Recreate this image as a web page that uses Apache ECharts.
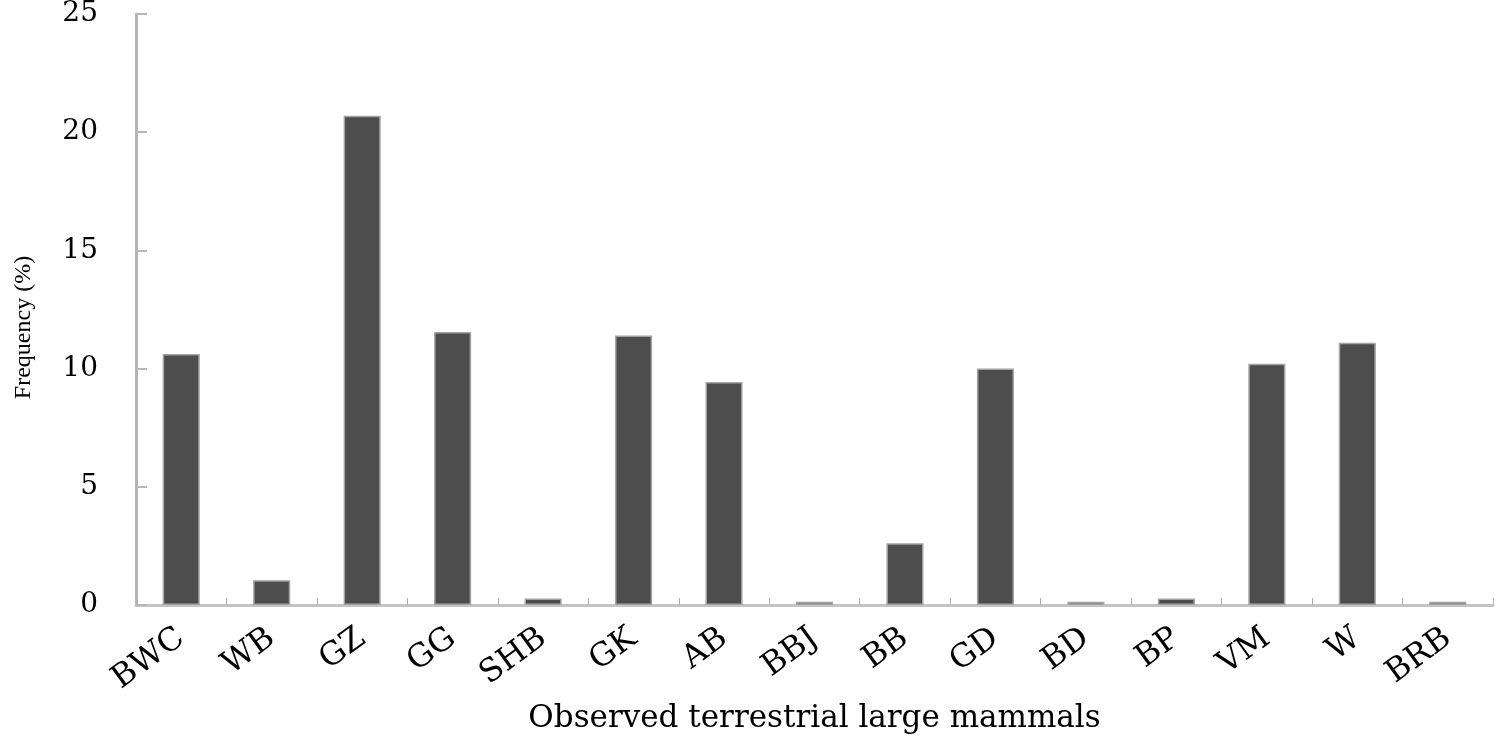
<!DOCTYPE html>
<html>
<head>
<meta charset="utf-8">
<script src="https://cdn.jsdelivr.net/npm/echarts@6/dist/echarts.min.js"></script>
<style>
html,body{margin:0;padding:0;background:#fff;}
#chart{width:1500px;height:739px;}
</style>
</head>
<body>
<div id="chart"></div>
<script>
var categories = ['BWC','WB','GZ','GG','SHB','GK','AB','BBJ','BB','GD','BD','BP','VM','W','BRB'];
var frequency = [10.62, 1.05, 20.70, 11.55, 0.27, 11.40, 9.43, 0.14, 2.61, 10.0, 0.14, 0.27, 10.20, 11.09, 0.14];
var yTicks = { min: 0, max: 25, interval: 5 };
var xAxisTitle = 'Observed terrestrial large mammals';
var yAxisTitle = 'Frequency (%)';

var chart = echarts.init(document.getElementById('chart'));
chart.setOption({
  backgroundColor: '#ffffff',
  animation: false,
  grid: { left: 136, right: 7, top: 14, bottom: 132, containLabel: false },
  xAxis: {
    type: 'category',
    data: categories,
    name: xAxisTitle,
    nameLocation: 'middle',
    nameGap: 98,
    nameTextStyle: { fontFamily: 'DejaVu Serif', fontSize: 31, color: '#000' },
    axisLine: { lineStyle: { color: '#c4c4c4', width: 3 } },
    axisTick: { show: true, inside: true, length: 7, lineStyle: { color: '#b0b0b0', width: 1 } },
    axisLabel: { rotate: 36, margin: 30, fontFamily: 'DejaVu Serif', fontSize: 32, color: '#000' }
  },
  yAxis: {
    type: 'value',
    min: yTicks.min, max: yTicks.max, interval: yTicks.interval,
    name: yAxisTitle,
    nameLocation: 'middle',
    nameGap: 100,
    nameRotate: 90,
    nameTextStyle: { fontFamily: 'Liberation Serif', fontSize: 24, color: '#000', padding: [0, 36, 0, 0] },
    axisLine: { show: true, lineStyle: { color: '#b4b4b4', width: 3 } },
    axisTick: { show: true, inside: true, length: 11, lineStyle: { color: '#b8b8b8', width: 2 } },
    axisLabel: { margin: 38, fontFamily: 'DejaVu Serif', fontSize: 28, color: '#000' },
    splitLine: { show: false }
  },
  series: [{
    type: 'bar',
    data: frequency,
    barWidth: '41%',
    itemStyle: { color: '#4d4d4d', borderColor: '#a3a3a3', borderWidth: 1.5 }
  }]
});
</script>
</body>
</html>
